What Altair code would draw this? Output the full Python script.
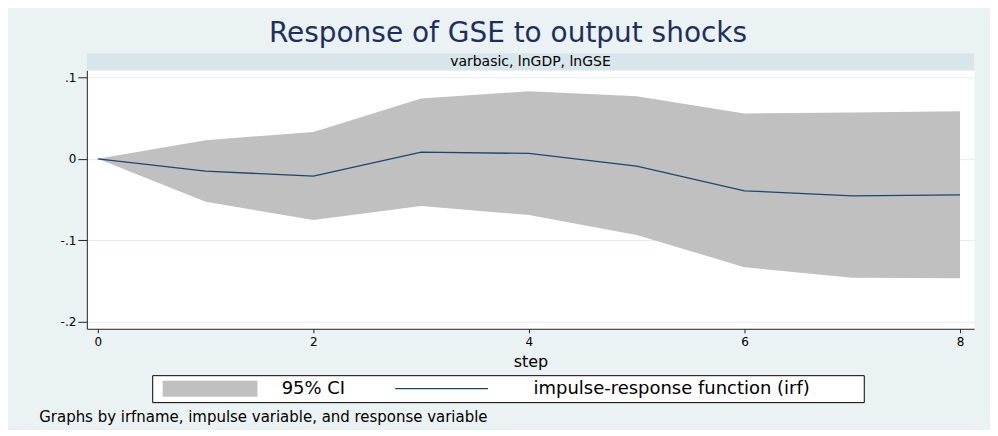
import altair as alt
import pandas as pd

# ---- data ----
steps = [0, 1, 2, 3, 4, 5, 6, 7, 8]
irf = [0.0, -0.0151, -0.0212, 0.0082, 0.0066, -0.0089, -0.0392, -0.0453, -0.0441]
ci_upper = [0.0, 0.0229, 0.0330, 0.0739, 0.0829, 0.0767, 0.0556, 0.0568, 0.0584]
ci_lower = [0.0, -0.0526, -0.0750, -0.0579, -0.0689, -0.0934, -0.1329, -0.1457, -0.1464]

x_ticks = [0, 2, 4, 6, 8]
y_ticks = [-0.2, -0.1, 0.0, 0.1]

title_text = "Response of GSE to output  shocks"
strip_text = "varbasic, lnGDP, lnGSE"
x_title = "step"
legend_labels = ["95% CI", "impulse-response function (irf)"]
note_text = "Graphs by irfname, impulse variable, and response variable"

df = pd.DataFrame({"step": steps, "irf": irf, "upper": ci_upper, "lower": ci_lower})
one = pd.DataFrame({"k": [0]})

FONT = "DejaVu Sans"
W, H = 889, 259
NAVY = "#1A476F"
CI = "#C0C0C0"

xscale = alt.Scale(domain=[-0.102, 8.13], nice=False, zero=False)
yscale = alt.Scale(domain=[-0.2084, 0.1086], nice=False, zero=False)

xaxis = alt.Axis(values=x_ticks, format="d", title=x_title, grid=False, tickSize=4,
                 labelPadding=4, labelFontSize=12, titleFontSize=16,
                 titlePadding=6, titleFontWeight="normal")
yaxis = alt.Axis(values=y_ticks, title=None, grid=True, tickSize=9,
                 labelPadding=2, labelFontSize=12,
                 labelExpr="datum.value == 0 ? '0' : (datum.value < 0 ? '-' : '') + '.' + format(abs(datum.value) * 10, 'd')")

band = alt.Chart(df).mark_area(color=CI, opacity=1).encode(
    x=alt.X("step:Q", scale=xscale, axis=xaxis),
    y=alt.Y("lower:Q", scale=yscale, axis=yaxis),
    y2="upper:Q",
)
line = alt.Chart(df).mark_line(color=NAVY, strokeWidth=1.3).encode(
    x="step:Q",
    y="irf:Q",
)

base = alt.Chart(one)

title = base.mark_text(font=FONT, fontSize=28, color="#1E2F5E", align="center",
                       baseline="alphabetic", text=title_text).encode(
    x=alt.value(422), y=alt.value(-28))

strip = base.mark_rect(color="#D8E5EA").encode(
    x=alt.value(0), x2=alt.value(W), y=alt.value(-17), y2=alt.value(0))
strip_lbl = base.mark_text(font=FONT, fontSize=14, color="black", align="center",
                           baseline="alphabetic", text=strip_text).encode(
    x=alt.value(W / 2), y=alt.value(-4.5))

leg_box = base.mark_rect(fill="white", stroke="black", strokeWidth=1).encode(
    x=alt.value(66), x2=alt.value(779), y=alt.value(306), y2=alt.value(333))
leg_sw = base.mark_rect(color=CI).encode(
    x=alt.value(76), x2=alt.value(171), y=alt.value(311), y2=alt.value(327))
leg_t1 = base.mark_text(font=FONT, fontSize=18, color="black", align="center",
                        baseline="middle", text=legend_labels[0]).encode(
    x=alt.value(227), y=alt.value(319.5))
leg_ln = base.mark_rule(color=NAVY, strokeWidth=1.3).encode(
    x=alt.value(309), x2=alt.value(402), y=alt.value(319))
leg_t2 = base.mark_text(font=FONT, fontSize=18, color="black", align="center",
                        baseline="middle", text=legend_labels[1]).encode(
    x=alt.value(586), y=alt.value(319.5))

note = base.mark_text(font=FONT, fontSize=15, color="black", align="left",
                      baseline="middle", text=note_text).encode(
    x=alt.value(-47.7), y=alt.value(347.5))

chart = alt.layer(
    band, line, title, strip, strip_lbl, leg_box, leg_sw, leg_t1, leg_ln, leg_t2, note
).properties(
    width=W, height=H,
    padding={"left": 79, "top": 62, "right": 16, "bottom": 101},
    autosize=alt.AutoSizeParams(type="none"),
    background="#EAF2F3",
).configure_view(
    fill="white", stroke="transparent"
).configure_axis(
    labelFont=FONT, titleFont=FONT, labelColor="black", titleColor="black",
    domainColor="#222222", tickColor="#222222", domainWidth=1, tickWidth=1,
    gridColor="#E6EEF1", gridWidth=1,
)

chart.save("out.html", embed_options={"renderer": "svg", "actions": False})
